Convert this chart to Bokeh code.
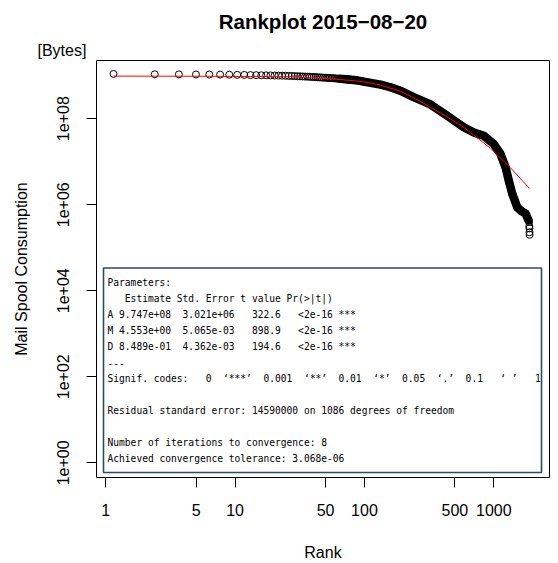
from bokeh.plotting import figure
from bokeh.models import Range1d, LogScale, LogAxis, FixedTicker, Label, BoxAnnotation, Title
from bokeh.embed import file_html
from bokeh.resources import INLINE

# ---- data ----
rank_head = list(range(1, 61))
size_head = [
    1.096e9, 1.076e9, 1.072e9, 1.067e9, 1.062e9, 1.057e9, 1.050e9, 1.042e9, 1.038e9, 1.030e9,
    1.026e9, 1.021e9, 1.017e9, 1.012e9, 1.006e9, 1.002e9, 9.98e8, 9.93e8, 9.86e8, 9.82e8,
    9.75e8, 9.69e8, 9.64e8, 9.57e8, 9.51e8, 9.47e8, 9.40e8, 9.33e8, 9.29e8, 9.22e8,
    9.16e8, 9.12e8, 9.05e8, 8.99e8, 8.95e8, 8.89e8, 8.83e8, 8.79e8, 8.75e8, 8.69e8,
    8.65e8, 8.59e8, 8.55e8, 8.49e8, 8.45e8, 8.41e8, 8.36e8, 8.32e8, 8.26e8, 8.22e8,
    8.17e8, 8.13e8, 8.09e8, 8.04e8, 8.00e8, 7.94e8, 7.91e8, 7.85e8, 7.82e8, 7.76e8,
]
rank_tail = [67, 89, 105, 124, 155, 206, 273, 360, 427, 505, 597, 668, 727, 768, 813,
             885, 950, 1017, 1069, 1080, 1085, 1087, 1088, 1089]
size_tail = [7.24e8, 6.17e8, 5.37e8, 4.47e8, 3.16e8, 2.14e8, 1.17e8, 6.31e7, 4.79e7, 3.98e7,
             2.57e7, 1.51e7, 7.41e6, 3.63e6, 1.82e6, 8.71e5, 7.08e5, 6.27e5, 4.34e5, 3.98e5,
             3.16e5, 2.82e5, 2.29e5, 2.00e5]

fit_rank = [1, 5, 10, 20, 40, 67, 89, 124, 174, 244, 341, 403, 565, 790, 962, 1089]
fit_size = [9.75e8, 9.66e8, 9.55e8, 9.40e8, 8.41e8, 7.24e8, 6.03e8, 4.37e8, 2.51e8, 1.35e8,
            7.08e7, 4.79e7, 2.04e7, 7.24e6, 3.63e6, 2.40e6]

x_ticks = [1, 5, 10, 50, 100, 500, 1000]
x_tick_labels = ["1", "5", "10", "50", "100", "500", "1000"]
y_ticks = [1, 100, 10000, 1000000, 100000000]
y_tick_labels = ["1e+00", "1e+02", "1e+04", "1e+06", "1e+08"]

summary_lines = [
    "Parameters:",
    "   Estimate Std. Error t value Pr(>|t|)",
    "A 9.747e+08  3.021e+06   322.6   <2e-16 ***",
    "M 4.553e+00  5.065e-03   898.9   <2e-16 ***",
    "D 8.489e-01  4.362e-03   194.6   <2e-16 ***",
    "---",
    "Signif. codes:   0  \u2018***\u2019  0.001  \u2018**\u2019  0.01  \u2018*\u2019  0.05  \u2018.\u2019  0.1   \u2018 \u2019   1",
    "",
    "Residual standard error: 14590000 on 1086 degrees of freedom",
    "",
    "Number of iterations to convergence: 8",
    "Achieved convergence tolerance: 3.068e-06",
]

ranks = rank_head + rank_tail
sizes = size_head + size_tail
band_r = [r for r in ranks if 45 <= r <= 1069]
band_s = [s for r, s in zip(ranks, sizes) if 45 <= r <= 1069]

FONT = "Liberation Sans"
FRAME_BOTTOM = 478  # canvas y of the frame bottom
FRAME_LEFT = 96

p = figure(width=558, height=563, x_axis_type="log", y_axis_type="log",
           x_range=Range1d(10 ** -0.1241, 10 ** 3.1825),
           y_range=Range1d(10 ** -0.341, 10 ** 9.352),
           x_axis_location=None, output_backend="svg", toolbar_location=None,
           min_border_left=96, min_border_right=9, min_border_top=60, min_border_bottom=85)
p.background_fill_color = "white"
p.border_fill_color = "white"
p.outline_line_color = "black"
p.outline_line_width = 1
p.outline_line_alpha = 1
p.xgrid.visible = False
p.ygrid.visible = False

# unit label (closest to the frame), then the main title above it
p.add_layout(Title(text="[Bytes]", align="left", offset=37 - FRAME_LEFT, standoff=4,
                   text_font=FONT, text_font_size="16px", text_font_style="normal",
                   text_color="black"), "above")
p.title.text = "Rankplot 2015\u221208\u221220"
p.title.align = "center"
p.title.text_font = FONT
p.title.text_font_size = "20.5px"
p.title.text_font_style = "bold"
p.title.text_color = "black"
p.title.standoff = 10

# drawn x axis (its own log range, as in the original)
p.extra_x_ranges = {"ax": Range1d(10 ** -0.0719, 10 ** 3.4307)}
p.extra_x_scales = {"ax": LogScale()}
xax = LogAxis(x_range_name="ax", ticker=FixedTicker(ticks=x_ticks, minor_ticks=[]),
              major_label_overrides=dict(zip(x_ticks, x_tick_labels)))
xax.axis_label = "Rank"
p.add_layout(xax, "below")

yax = p.yaxis[0]
yax.ticker = FixedTicker(ticks=y_ticks, minor_ticks=[])
yax.major_label_overrides = dict(zip(y_ticks, y_tick_labels))
yax.major_label_orientation = "parallel"
yax.axis_label = "Mail Spool Consumption"

for ax in (xax, yax):
    ax.axis_line_color = None
    ax.major_tick_line_color = "black"
    ax.major_tick_out = 10
    ax.major_tick_in = 0
    ax.minor_tick_line_color = None
    ax.major_label_text_font = FONT
    ax.major_label_text_font_size = "16px"
    ax.major_label_text_color = "black"
    ax.axis_label_text_font = FONT
    ax.axis_label_text_font_size = "16px"
    ax.axis_label_text_font_style = "normal"
    ax.axis_label_text_color = "black"
xax.major_label_standoff = 16
xax.axis_label_standoff = 25
yax.major_label_standoff = 17
yax.axis_label_standoff = 25

# data
p.line(band_r, band_s, line_width=8.5, line_color="black", line_join="round", line_cap="round")
p.scatter(ranks, sizes, marker="circle", size=7, fill_color=None, line_color="black", line_width=1)
p.line(fit_rank, fit_size, line_color="red", line_width=1)

# summary box
p.add_layout(BoxAnnotation(left=103 - FRAME_LEFT, right=541 - FRAME_LEFT,
                           top=FRAME_BOTTOM - 268.5, bottom=FRAME_BOTTOM - 473,
                           left_units="screen", right_units="screen",
                           top_units="screen", bottom_units="screen",
                           fill_color="white", fill_alpha=1.0,
                           line_color="#2B4F5A", line_alpha=1.0, line_width=1.6))
for i, line in enumerate(summary_lines):
    if not line:
        continue
    p.add_layout(Label(x=107 - FRAME_LEFT, y=FRAME_BOTTOM - (283 + 16 * i),
                       x_units="screen", y_units="screen", text=line.replace(" ", "\u00a0"),
                       text_font="DejaVu Sans Mono", text_font_size="9.6px",
                       text_baseline="middle", text_align="left", text_color="black"))

open("out.html", "w").write(file_html(p, INLINE))
